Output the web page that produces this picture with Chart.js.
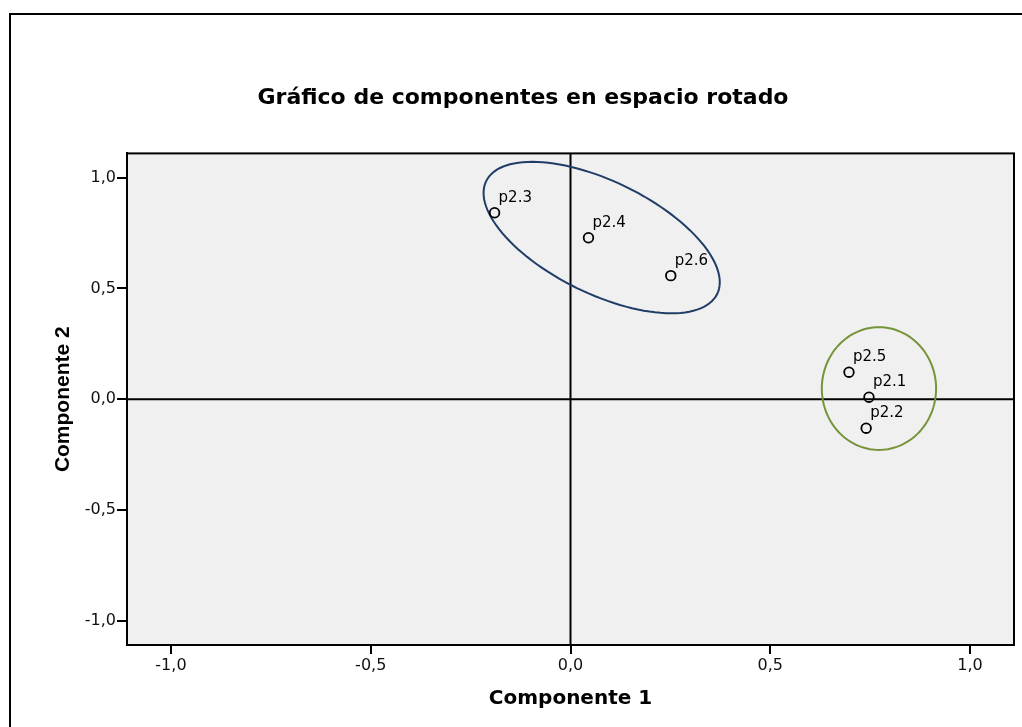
<!DOCTYPE html>
<html>
<head>
<meta charset="utf-8">
<script src="https://cdn.jsdelivr.net/npm/chart.js@4"></script>
<style>
  html, body { margin: 0; padding: 0; background: #fff; }
  canvas { display: block; }
</style>
</head>
<body>
<canvas id="chart" width="1022" height="727"></canvas>
<script>
/* Rotated component plot: loadings of p2.x items on components 1 and 2 */
var itemLabels = ['p2.1', 'p2.2', 'p2.3', 'p2.4', 'p2.5', 'p2.6'];
var comp1 = [0.747, 0.740, -0.190, 0.045, 0.697, 0.251];
var comp2 = [0.009, -0.131, 0.842, 0.729, 0.122, 0.558];
var tickValues = [-1.0, -0.5, 0.0, 0.5, 1.0];

/* hand-drawn group ellipses, in data units: centre, half-axis vectors */
var groupCentreX = [0.078, 0.772];
var groupCentreY = [0.730, 0.048];
var groupAxisU = [[0.289, -0.255], [0.143, 0]];
var groupAxisV = [[-0.062, -0.228], [0, 0.277]];
var groupColors = ['#1f3d66', '#76943a'];

function fmtTick(v) {
  return v.toFixed(1).replace('.', ',');
}

var points = comp1.map(function (x, i) { return { x: x, y: comp2[i] }; });

var decor = {
  id: 'decor',
  beforeDraw: function (chart) {
    var ctx = chart.ctx, a = chart.chartArea;
    ctx.save();
    // outer frame (runs off the picture on the right/bottom)
    ctx.strokeStyle = '#000';
    ctx.lineWidth = 2;
    ctx.strokeRect(10, 14, 1100, 800);
    // plot background
    ctx.fillStyle = '#f0f0f0';
    ctx.fillRect(a.left, a.top, a.right - a.left, a.bottom - a.top);
    ctx.restore();
  },
  beforeDatasetsDraw: function (chart) {
    var ctx = chart.ctx, a = chart.chartArea;
    var xs = chart.scales.x, ys = chart.scales.y;
    ctx.save();
    ctx.strokeStyle = '#000';
    ctx.lineWidth = 2;
    ctx.strokeRect(a.left, a.top, a.right - a.left, a.bottom - a.top);
    // reference lines at zero
    var x0 = xs.getPixelForValue(0), y0 = ys.getPixelForValue(0);
    ctx.beginPath();
    ctx.moveTo(x0, a.top); ctx.lineTo(x0, a.bottom);
    ctx.moveTo(a.left, y0); ctx.lineTo(a.right, y0);
    ctx.stroke();
    // group ellipses
    groupCentreX.forEach(function (cx, g) {
      var u = groupAxisU[g], v = groupAxisV[g];
      ctx.beginPath();
      for (var k = 0; k <= 120; k++) {
        var t = k / 120 * Math.PI * 2;
        var dx = cx + Math.cos(t) * u[0] + Math.sin(t) * v[0];
        var dy = groupCentreY[g] + Math.cos(t) * u[1] + Math.sin(t) * v[1];
        var px = xs.getPixelForValue(dx), py = ys.getPixelForValue(dy);
        if (k === 0) ctx.moveTo(px, py); else ctx.lineTo(px, py);
      }
      ctx.closePath();
      ctx.strokeStyle = groupColors[g];
      ctx.lineWidth = 2;
      ctx.stroke();
    });
    ctx.restore();
  },
  afterDatasetsDraw: function (chart) {
    var ctx = chart.ctx;
    var meta = chart.getDatasetMeta(0);
    ctx.save();
    ctx.fillStyle = '#000';
    ctx.font = '15px "DejaVu Sans"';
    ctx.textAlign = 'left';
    ctx.textBaseline = 'alphabetic';
    meta.data.forEach(function (pt, i) {
      ctx.fillText(itemLabels[i], pt.x + 4, pt.y - 11);
    });
    ctx.restore();
  }
};

new Chart(document.getElementById('chart'), {
  type: 'scatter',
  data: {
    labels: itemLabels,
    datasets: [{
      data: points,
      pointRadius: 4.8,
      pointHoverRadius: 4.8,
      pointBorderWidth: 1.8,
      pointBorderColor: '#000',
      pointBackgroundColor: 'rgba(0,0,0,0)'
    }]
  },
  options: {
    responsive: false,
    animation: false,
    layout: { padding: { left: 32, right: 8, top: 0, bottom: 0 } },
    plugins: {
      legend: { display: false },
      tooltip: { enabled: false },
      title: {
        display: true,
        text: 'Gráfico de componentes en espacio rotado',
        color: '#000',
        font: { family: '"DejaVu Sans"', size: 22, weight: 'bold', lineHeight: 1.2 },
        padding: { top: 85, bottom: 42 }
      }
    },
    scales: {
      x: {
        type: 'linear',
        min: -1.11,
        max: 1.11,
        afterBuildTicks: function (s) { s.ticks = tickValues.map(function (v) { return { value: v }; }); },
        afterFit: function (s) { s.height = 82; },
        grid: { drawOnChartArea: false, color: '#000', lineWidth: 2, tickLength: 9 },
        border: { display: true, color: '#000', width: 2 },
        ticks: {
          color: '#111',
          padding: 2,
          maxRotation: 0,
          font: { family: '"DejaVu Sans"', size: 16 },
          callback: function (v) { return fmtTick(v); }
        },
        title: {
          display: true,
          text: 'Componente 1',
          color: '#000',
          font: { family: '"DejaVu Sans"', size: 20, weight: 'bold', lineHeight: 1.2 },
          padding: { top: 0, bottom: 16 }
        }
      },
      y: {
        type: 'linear',
        min: -1.11,
        max: 1.11,
        afterBuildTicks: function (s) { s.ticks = tickValues.map(function (v) { return { value: v }; }); },
        afterFit: function (s) { s.width = 95; },
        grid: { drawOnChartArea: false, color: '#000', lineWidth: 2, tickLength: 10 },
        border: { display: true, color: '#000', width: 2 },
        ticks: {
          color: '#111',
          padding: 1,
          font: { family: '"DejaVu Sans"', size: 16 },
          callback: function (v) { return fmtTick(v); }
        },
        title: {
          display: true,
          text: 'Componente 2',
          color: '#000',
          font: { family: '"Liberation Sans"', size: 21, weight: 'bold', lineHeight: 1.2 },
          padding: { top: 19, bottom: 0 }
        }
      }
    }
  },
  plugins: [decor]
});
</script>
</body>
</html>
